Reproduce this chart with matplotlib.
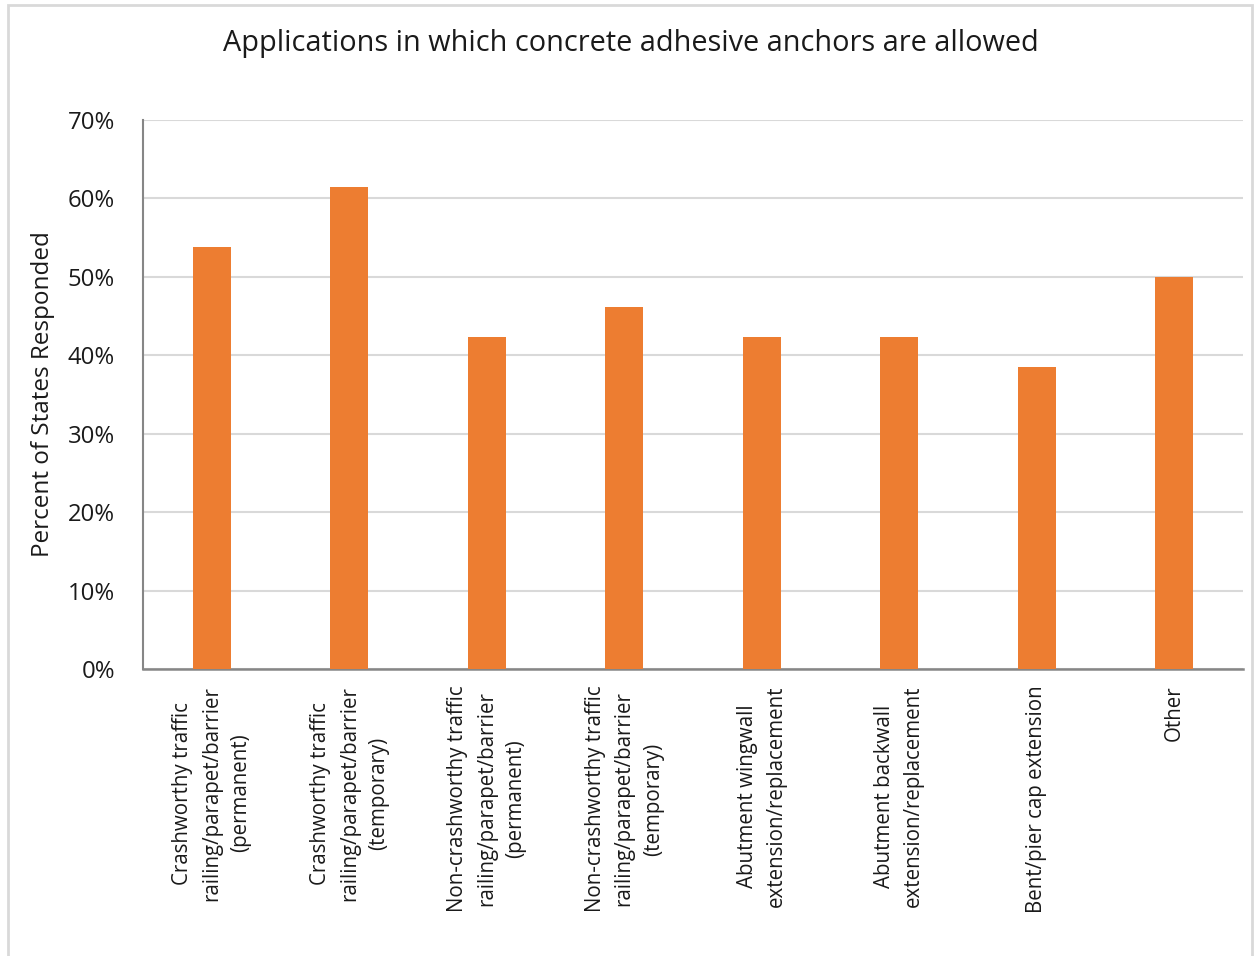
import matplotlib.pyplot as plt
from matplotlib.patches import Rectangle
from matplotlib.ticker import PercentFormatter

# data
categories = [
    "Crashworthy traffic\nrailing/parapet/barrier\n(permanent)",
    "Crashworthy traffic\nrailing/parapet/barrier\n(temporary)",
    "Non-crashworthy traffic\nrailing/parapet/barrier\n(permanent)",
    "Non-crashworthy traffic\nrailing/parapet/barrier\n(temporary)",
    "Abutment wingwall\nextension/replacement",
    "Abutment backwall\nextension/replacement",
    "Bent/pier cap extension",
    "Other",
]
percent = [53.8, 61.5, 42.3, 46.2, 42.3, 42.3, 38.5, 50.0]
yticks = [0, 10, 20, 30, 40, 50, 60, 70]

plt.rcParams['font.family'] = ['Open Sans', 'DejaVu Sans']

W, H = 1254, 956
fig = plt.figure(figsize=(W / 100, H / 100), dpi=100)

# light outer frame
fig.patches.append(Rectangle((8 / W, -0.05), (1252 - 8) / W, 1.05 - 5 / H,
                             transform=fig.transFigure, fill=False,
                             edgecolor="#d9d9d9", linewidth=2))

ax = fig.add_axes([143 / W, 1 - 669 / H, 1100 / W, 549 / H])

x = range(len(categories))
ax.bar(x, percent, width=0.277, color="#ED7D31", zorder=3)

ax.set_xlim(-0.5, len(categories) - 0.5)
ax.set_ylim(0, 70)
ax.set_yticks(yticks)
ax.yaxis.set_major_formatter(PercentFormatter(decimals=0))
ax.grid(axis="y", color="#d9d9d9", linewidth=1.5, zorder=0)

ax.set_xticks(list(x))
ax.set_xticklabels(categories, rotation=90, ha="center", va="top",
                   multialignment="center", fontsize=14.8, linespacing=1.5)
ax.tick_params(axis="x", length=0, pad=12)
ax.tick_params(axis="y", length=0, pad=20, labelsize=17.2)
for lab in ax.get_xticklabels() + ax.get_yticklabels():
    lab.set_color("#1a1a1a")

for s in ["top", "right"]:
    ax.spines[s].set_visible(False)
ax.spines["left"].set_color("#868686")
ax.spines["bottom"].set_color("#868686")
ax.spines["left"].set_linewidth(1.5)
ax.spines["bottom"].set_linewidth(1.8)

ax.set_ylabel("Percent of States Responded", fontsize=17.5, color="#1a1a1a", va="center")
ax.yaxis.set_label_coords((43 - 143) / 1100, 0.5)

fig.text(631 / W, 1 - 43 / H, "Applications in which concrete adhesive anchors are allowed",
         ha="center", va="center", fontsize=20.8, color="#1a1a1a")

fig.savefig("out.png", dpi=100)
